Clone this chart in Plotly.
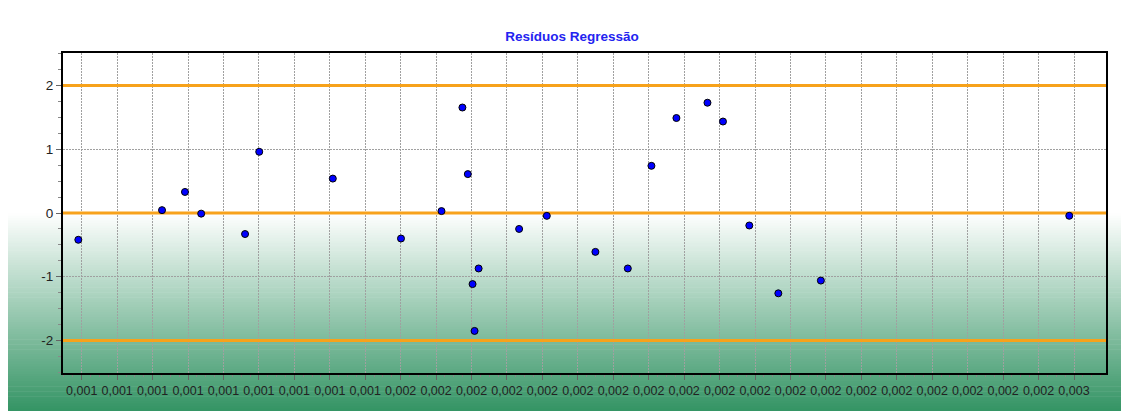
import plotly.graph_objects as go

# ---- data ----
x_values = [0.001035, 0.001159, 0.001193, 0.001217, 0.001282, 0.001303, 0.001412,
            0.001513, 0.001573, 0.001604, 0.001612, 0.001619, 0.001622, 0.001628,
            0.001688, 0.001729, 0.001801, 0.001849, 0.001884, 0.001921, 0.001967,
            0.001990, 0.002029, 0.002072, 0.002135, 0.002503]
residuals = [-0.42, 0.045, 0.33, -0.01, -0.33, 0.96, 0.54,
             -0.40, 0.03, 1.655, 0.61, -1.115, -1.85, -0.87,
             -0.25, -0.045, -0.61, -0.87, 0.74, 1.49, 1.73,
             1.435, -0.196, -1.26, -1.06, -0.044]
ref_lines = [-2, 0, 2]
y_ticks = [-2, -1, 0, 1, 2]
y_tick_labels = ["-2", "-1", "0", "1", "2"]
x_tick0 = 0.00104
x_dtick = 0.0000525
x_range = [0.0010123, 0.0025574]
y_range = [-2.51, 2.51]
title_text = "Resíduos Regressão"

# page body has an 8px margin; figure sized to fill the rest of the window
W, H = 1121, 403
ml, mr, mt, mb = 55, 23, 45, 38
pw, ph = W - ml - mr, H - mt - mb

fig = go.Figure()
# reference lines at -2, 0, 2 (drawn under the points)
for yv in ref_lines:
    fig.add_trace(go.Scatter(
        x=x_range, y=[yv, yv], mode="lines",
        line=dict(color="#f7a21b", width=3),
        showlegend=False, hoverinfo="skip", cliponaxis=True,
    ))
fig.add_trace(go.Scatter(
    x=x_values, y=residuals, mode="markers",
    marker=dict(size=7, color="#0000ff", line=dict(color="#000000", width=1)),
    showlegend=False, cliponaxis=False,
))

shapes = []
# background gradient (white -> green), drawn as thin strips in paper coords
top_px, bot_px = 205, H
left_px, right_px = 0, W
c0 = (255, 255, 255)
c1 = (52, 148, 100)
n = 80
for i in range(n):
    t0 = i / n
    t1 = (i + 1) / n
    tm = (t0 + t1) / 2
    col = tuple(round(c0[k] + (c1[k] - c0[k]) * tm) for k in range(3))
    y0p = top_px + (bot_px - top_px) * t0
    y1p = top_px + (bot_px - top_px) * t1 + 0.6
    shapes.append(dict(
        type="rect", xref="paper", yref="paper", layer="below",
        x0=(left_px - ml) / pw, x1=(right_px - ml) / pw,
        y0=(H - mb - y1p) / ph, y1=(H - mb - y0p) / ph,
        fillcolor="rgb(%d,%d,%d)" % col, line=dict(width=0),
    ))

fig.update_layout(
    width=W, height=H,
    margin=dict(l=ml, r=mr, t=mt, b=mb),
    paper_bgcolor="#ffffff",
    plot_bgcolor="rgba(0,0,0,0)",
    font=dict(family="Liberation Sans, Arial, sans-serif", color="#222222"),
    separators=",.",
    shapes=shapes,
    title=dict(text="<b>%s</b>" % title_text, x=(564 - ml) / pw, xref="paper",
               xanchor="center", y=1 - 28 / H, yref="container", yanchor="middle",
               font=dict(size=13.5, color="#2323f0")),
)
fig.update_xaxes(
    range=x_range, tick0=x_tick0, dtick=x_dtick, tickformat=".3f",
    showgrid=True, gridcolor="#a0a0a0", griddash="2px,1px", gridwidth=1,
    showline=True, linecolor="#000000", linewidth=2, mirror=True,
    ticks="outside", ticklen=5, tickcolor="#666666", tickwidth=1,
    tickfont=dict(size=12.5, color="#222222"),
    minor=dict(dtick=x_dtick / 4, tick0=x_tick0, ticks="outside", ticklen=2,
               tickcolor="#888888", showgrid=False),
    zeroline=False,
)
fig.update_yaxes(
    range=y_range, tickvals=y_ticks, ticktext=y_tick_labels,
    showgrid=True, gridcolor="#a0a0a0", griddash="2px,1px", gridwidth=1,
    showline=True, linecolor="#000000", linewidth=2, mirror=True,
    ticks="outside", ticklen=5, tickcolor="#666666", tickwidth=1,
    tickfont=dict(size=13.5, color="#222222"),
    minor=dict(dtick=0.25, tick0=0, ticks="outside", ticklen=3,
               tickcolor="#888888", showgrid=False),
    zeroline=False,
)

fig.write_html("out.html")
